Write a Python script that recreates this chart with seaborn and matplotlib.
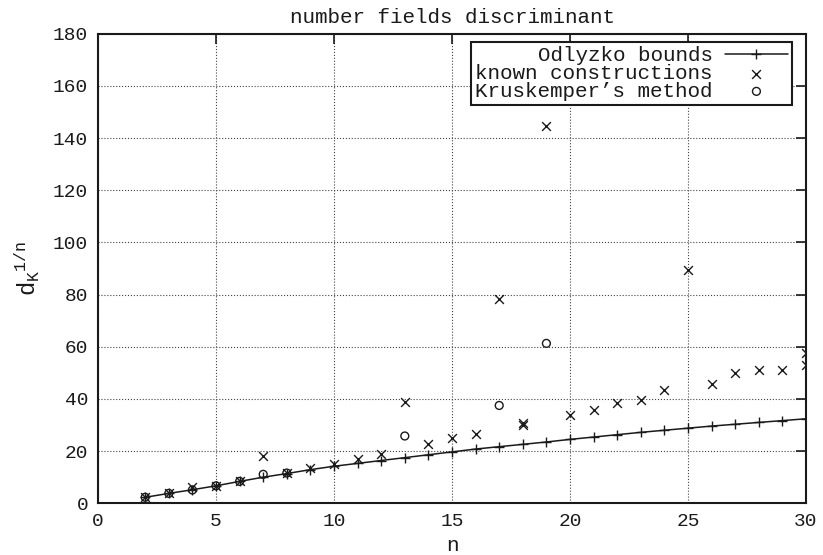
import seaborn as sns
from matplotlib import pyplot as plt

# Odlyzko lower bounds for the root discriminant, n = 2..30
n_bound = [2, 3, 4, 5, 6, 7, 8, 9, 10, 11, 12, 13, 14, 15, 16,
           17, 18, 19, 20, 21, 22, 23, 24, 25, 26, 27, 28, 29, 30]
odlyzko = [2.3, 3.8, 5.2, 6.7, 8.4, 10.0, 11.4, 12.9, 14.2, 15.3, 16.4, 17.5, 18.6, 19.7, 20.8,
           21.7, 22.6, 23.5, 24.5, 25.4, 26.3, 27.2, 28.0, 28.8, 29.6, 30.3, 31.0, 31.7, 32.4]

# known constructions
n_known = [2, 3, 4, 5, 6, 7, 8, 9, 10, 11, 12, 13, 14, 15, 16,
           17, 18, 18, 19, 20, 21, 22, 23, 24, 25, 26, 27, 28, 29, 30, 30]
known = [2.3, 3.8, 6.3, 6.7, 8.4, 18.0, 11.8, 13.4, 15.1, 17.1, 18.9, 38.9, 22.8, 24.9, 26.6,
         78.2, 30.1, 30.6, 144.6, 34.0, 35.9, 38.5, 39.7, 43.5, 89.3, 45.6, 50.0, 51.0, 51.1, 53.1, 57.7]

# Kruskemper's method
n_krusk = [2, 3, 4, 5, 6, 7, 8, 13, 17, 19]
krusk = [2.3, 3.8, 5.1, 6.7, 8.4, 11.1, 11.6, 25.8, 37.5, 61.3]

sns.set_theme(style='white')
plt.rcParams['font.family'] = ['Liberation Mono', 'DejaVu Sans']
plt.rcParams['mathtext.fontset'] = 'custom'
plt.rcParams['mathtext.rm'] = 'Liberation Mono'
plt.rcParams['mathtext.it'] = 'Liberation Mono'
plt.rcParams['mathtext.bf'] = 'Liberation Mono'
plt.rcParams['text.color'] = 'k'
plt.rcParams['axes.labelcolor'] = 'k'
plt.rcParams['xtick.color'] = 'k'
plt.rcParams['ytick.color'] = 'k'

fig = plt.figure(figsize=(8.23, 5.55), dpi=100)
ax = fig.add_axes([98 / 823, 1 - 503.3 / 555, 708 / 823, 469.6 / 555])

sns.lineplot(x=n_bound, y=odlyzko, ax=ax, color='k', lw=1.1, marker='+', markersize=7,
             mec='k', mew=1, label='Odlyzko bounds', estimator=None)
sns.scatterplot(x=n_known, y=known, ax=ax, marker='x', s=40, color='k', linewidth=1,
                label='known constructions')
sns.scatterplot(x=n_krusk, y=krusk, ax=ax, marker='o', s=32, facecolor='none', edgecolor='k',
                linewidth=1, label='Kruskemper’s method')

ax.set_xlim(0, 30)
ax.set_ylim(0, 180)
ax.set_xticks(range(0, 31, 5))
ax.set_yticks(range(0, 181, 20))
ax.grid(True, ls=':', color='#444444', lw=0.8)
ax.tick_params(direction='in', length=7, width=1.2, top=True, right=True, labelsize=14, pad=7)
for s in ax.spines.values():
    s.set_color('k')
    s.set_linewidth(1.5)

ax.set_title('number fields discriminant', fontsize=15, pad=8)
ax.set_xlabel('n', fontsize=15, labelpad=4)
ax.set_ylabel('$d_K{}^{1/n}$', fontsize=17, labelpad=8)

leg = ax.legend(loc='upper right', bbox_to_anchor=(0.98, 0.982), borderaxespad=0,
                markerfirst=False, fancybox=False, framealpha=1, edgecolor='k',
                fontsize=15, handlelength=3, handletextpad=0.6, labelspacing=-0.06,
                borderpad=0.2, scatterpoints=1)
leg.get_frame().set_linewidth(1.5)

plt.savefig('out.png', dpi=100)
